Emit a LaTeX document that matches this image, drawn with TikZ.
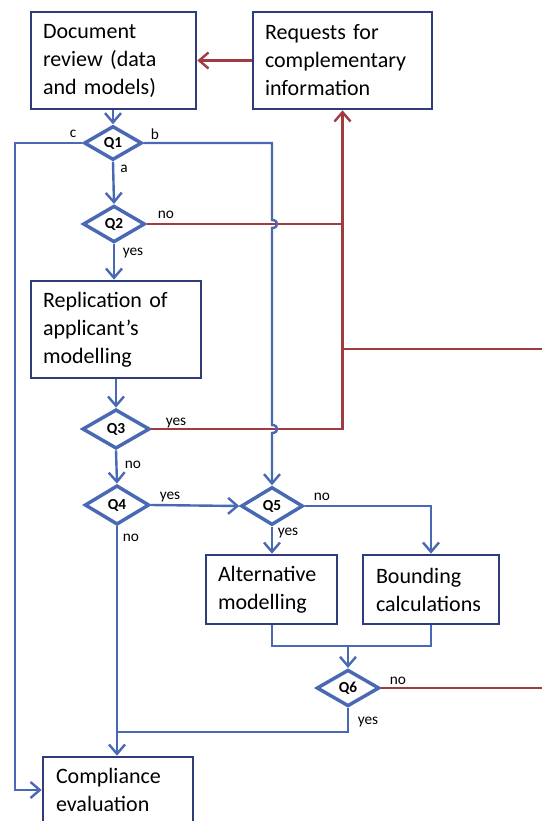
\documentclass[tikz,border=0pt]{standalone}
\usepackage{fontspec}
\setmainfont{Carlito}
\usetikzlibrary{shapes.geometric,arrows.meta}
\definecolor{lineblue}{HTML}{4A69B4}
\definecolor{boxblue}{HTML}{2E3D7A}
\definecolor{darkred}{HTML}{A23B3F}
\tikzset{
  box/.style={draw=boxblue,line width=2pt,rectangle,align=left,inner ysep=0pt,
    font=\fontsize{16.5}{21}\selectfont,text=black},
  dec/.style={draw=lineblue,line width=2.6pt,diamond,inner sep=0pt,
    font=\fontsize{11.5}{13}\selectfont\bfseries},
  lbl/.style={inner sep=0pt,font=\fontsize{11.5}{13}\selectfont},
  arr/.style={draw=lineblue,line width=1.8pt,-{Straight Barb[length=7pt,width=12pt,line width=1.8pt]}},
  ln/.style={draw=lineblue,line width=1.8pt},
  rarr/.style={draw=darkred,line width=1.8pt,-{Straight Barb[length=7pt,width=12pt,line width=1.8pt]}},
  rln/.style={draw=darkred,line width=1.8pt},
}
\begin{document}
\begin{tikzpicture}[x=0.75pt,y=-0.75pt]
\clip (0,0) rectangle (542,821);
\fill[white] (0,0) rectangle (542,821);
% boxes
\node[box,text width=105.75pt,inner xsep=9pt,minimum height=72.75pt] (doc) at (113.5,60.5) {Document\\review (data\\and models)};
\node[box,text width=116.25pt,inner xsep=9pt,minimum height=72.75pt] (req) at (342.5,60.5) {Requests for\\complementary\\information};
\node[box,text width=109.5pt,inner xsep=9pt,minimum height=72.75pt] (rep) at (116,329.5) {Replication of\\applicant’s\\modelling};
\node[box,text width=80.25pt,inner xsep=9pt,minimum height=51.75pt] (alt) at (271.5,589.5) {Alternative\\modelling};
\node[box,text width=82.5pt,inner xsep=9.75pt,minimum height=51.75pt] (bnd) at (431,589.5) {Bounding\\calculations};
\node[box,text width=93pt,inner xsep=9.75pt,minimum height=49.5pt] (comp) at (118,790) {Compliance\\evaluation};
% decisions
\node[dec,minimum width=43.5pt,minimum height=25.5pt] (q1) at (113,143) {Q1};
\node[dec,minimum width=46.5pt,minimum height=27.5pt] (q2) at (114,224) {Q2};
\node[dec,minimum width=50.5pt,minimum height=29.5pt] (q3) at (116,429) {Q3};
\node[dec,minimum width=48.5pt,minimum height=29.5pt] (q4) at (117,505) {Q4};
\node[dec,minimum width=46.5pt,minimum height=28.5pt] (q5) at (272,506) {Q5};
\node[dec,minimum width=47pt,minimum height=27.5pt] (q6) at (348,688) {Q6};
% coordinates
\coordinate (leftrail) at (15,790);
\coordinate (hop1a) at (272,220);
\coordinate (hop1b) at (272,228);
\coordinate (hop2a) at (272,425);
\coordinate (hop2b) at (272,433);
\coordinate (rightA) at (542,349);
\coordinate (rightB) at (542,688);
\coordinate (merge) at (348,646);
\coordinate (join) at (117,732);
% red connectors
\draw[rarr] (req.west) -- (doc.east);
\draw[rln] (q2.east) -- (req.south |- q2.east);
\draw[rarr] (q3.east) -- (req.south |- q3.east) -- (req.south);
\draw[rln] (req.south |- rightA) -- (rightA);
\draw[rln] (q6.east) -- (rightB);
% blue connectors
\draw[arr] (q1.north |- doc.south) -- (q1.north);
\draw[arr] (q1.west) -| (leftrail) -- (comp.west);
\draw[arr] (q1.east) -| (hop1a) .. controls +(7,0) and +(7,0) .. (hop1b) -- (hop2a) .. controls +(7,0) and +(7,0) .. (hop2b) -- (q5.north);
\draw[arr] (q1.south) -- (q2.north);
\draw[arr] (q2.south) -- (q2.south |- rep.north);
\draw[arr] (rep.south -| q3.north) -- (q3.north);
\draw[arr] (q3.south) -- (q4.north);
\draw[arr] (q4.east) -- (q5.west);
\draw[arr] (q4.south) -- (q4.south |- comp.north);
\draw[arr] (q5.east) -| (bnd.north);
\draw[arr] (q5.south) -- (q5.south |- alt.north);
\draw[ln] (alt.south -| q5.south) -- (q5.south |- merge) -- (bnd.south |- merge) -- (bnd.south);
\draw[arr] (merge) -- (q6.north);
\draw[ln] (q6.south) -- (q6.south |- join) -- (join);
% labels
\node[lbl] (lc) at (73,134) {c};
\node[lbl] (lb) at (155,134) {b};
\node[lbl] (la) at (124,169) {a};
\node[lbl] (l2n) at (166,215) {no};
\node[lbl] (l2y) at (133,253) {yes};
\node[lbl] (l3y) at (176,423) {yes};
\node[lbl] (l3n) at (133,465) {no};
\node[lbl] (l4y) at (170,497) {yes};
\node[lbl] (l4n) at (131,538) {no};
\node[lbl] (l5n) at (322,497) {no};
\node[lbl] (l5y) at (288,533) {yes};
\node[lbl] (l6n) at (398,681) {no};
\node[lbl] (l6y) at (368,722) {yes};
\end{tikzpicture}
\end{document}
